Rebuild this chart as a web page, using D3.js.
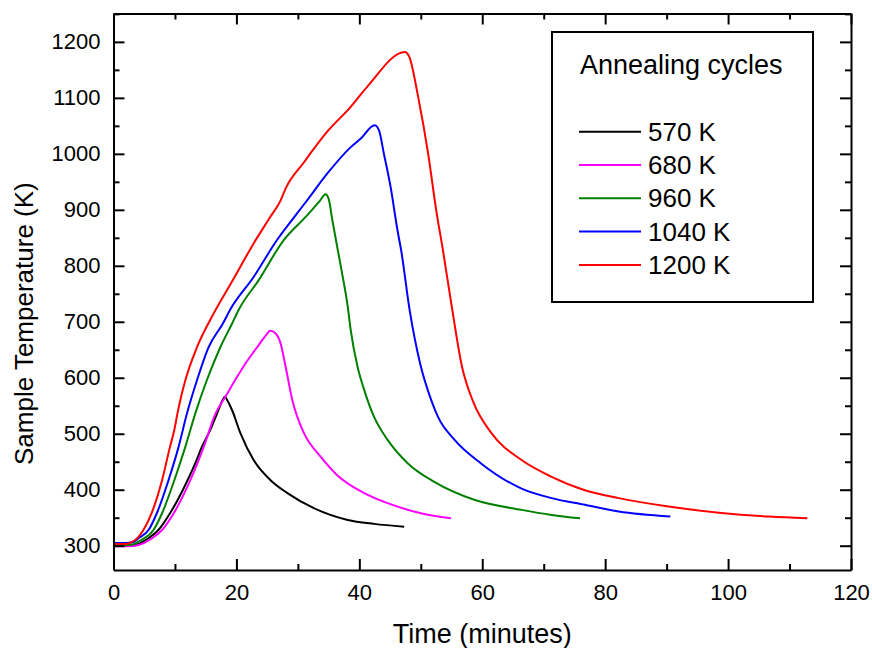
<!DOCTYPE html>
<html>
<head>
<meta charset="utf-8">
<script src="https://cdn.jsdelivr.net/npm/d3@7"></script>
<style>
  body { margin: 0; background: #fff; }
  text { font-family: "Liberation Sans", Arial, sans-serif; }
</style>
</head>
<body>
<div id="wrapper"></div>
<script>
// time (minutes), temperature (K)
const run570 = [[0,300],[2,300],[3.5,301],[5.5,312],[7.3,328],[9.2,358],[10.7,387],[12.05,417],[13.3,447],[14.4,477],[15.75,507],[16.85,536],[17.8,561],[18.1,566],[18.6,558],[19.3,542],[20.65,501],[22.8,453],[25.55,417],[28.3,394],[32.6,367],[38.1,346],[42.4,339],[47.3,334]];
const run680 = [[0,299],[2,299],[3.5,300],[5,305],[6.5,315],[7.9,328],[9.8,358],[12.5,417],[14.7,477],[16.6,536],[18.2,566],[19.8,596],[21.5,626],[22.8,646],[23.6,658],[24.6,673],[25.55,684],[26.3,680],[27.2,661],[28.0,620],[29.1,560],[31.0,501],[33.7,459],[36.4,426],[40.8,394],[44.6,376],[50.0,358],[54.9,349]];
const run960 = [[0,301],[2,301],[3,302],[4.5,310],[6.5,328],[7.9,358],[9.9,417],[11.7,477],[13.3,536],[15.2,596],[17.4,655],[19.3,697],[20.4,722],[23.6,774],[27.7,846],[31.5,890],[33.5,915],[34.5,928],[35.0,920],[35.6,882],[37.0,798],[38.1,728],[38.6,685],[39.7,620],[40.8,578],[42.4,530],[44.6,489],[47.9,447],[52.2,414],[58.7,382],[66.4,364],[71.3,355],[75.9,349]];
const run1040 = [[0,305],[2,305],[3,306],[4.3,315],[5.7,328],[7.05,358],[8.95,417],[10.6,477],[11.95,536],[13.6,596],[15.5,655],[17.8,697],[19.0,722],[22.8,780],[26.6,846],[29.9,894],[31.5,917],[34.8,965],[38.6,1012],[40.2,1027],[42.5,1051],[43.2,1042],[44.0,1000],[45.1,940],[46.2,864],[46.8,828],[48.2,720],[49.9,625],[51.7,560],[52.8,530],[55.5,489],[59.8,447],[66.4,402],[71.3,385],[76.7,373],[82.2,361],[90.6,352]];
const run1200 = [[0,303],[2,303],[2.7,305],[4.0,315],[4.87,328],[6.2,358],[7.9,417],[9.2,477],[9.9,507],[10.4,536],[11.0,566],[11.7,596],[13.6,655],[16.3,715],[19.5,776],[22.8,840],[25.55,888],[27.2,917],[28.0,938],[31.0,985],[34.8,1040],[38.6,1084],[41.3,1120],[47.4,1182],[48.1,1174],[49.6,1100],[51.2,1000],[52.5,900],[53.6,828],[55.0,730],[56.7,620],[58.6,555],[61.5,501],[66.4,453],[71.3,423],[76.7,399],[82.2,385],[90.3,370],[98.5,359],[106.7,352],[112.9,349]];

const seriesData = [run570, run680, run960, run1040, run1200];
const seriesNames = ['570 K', '680 K', '960 K', '1040 K', '1200 K'];
const seriesColors = ['#000000', '#ff00ff', '#008000', '#0000ff', '#ff0000'];

const xTicks = [0, 20, 40, 60, 80, 100, 120];
const xMinorTicks = [10, 30, 50, 70, 90, 110];
const yTicks = [300, 400, 500, 600, 700, 800, 900, 1000, 1100, 1200];
const yMinorTicks = [350, 450, 550, 650, 750, 850, 950, 1050, 1150, 1250];

function drawChart() {
  const dimensions = {
    width: 872,
    height: 648,
    margin: { top: 13.5, right: 21, bottom: 78, left: 113.5 },
  };
  dimensions.innerWidth = dimensions.width - dimensions.margin.left - dimensions.margin.right;
  dimensions.innerHeight = dimensions.height - dimensions.margin.top - dimensions.margin.bottom;

  const wrapper = d3
    .select('#wrapper')
    .append('svg')
    .attr('width', dimensions.width)
    .attr('height', dimensions.height);

  const bounds = wrapper
    .append('g')
    .attr('transform', `translate(${dimensions.margin.left},${dimensions.margin.top})`);

  const xScale = d3.scaleLinear().domain([0, 120]).range([0, dimensions.innerWidth]);
  const yScale = d3.scaleLinear().domain([256.6, 1250.7]).range([dimensions.innerHeight, 0]);

  // lines
  const lineGenerator = d3
    .line()
    .x((d) => xScale(d[0]))
    .y((d) => yScale(d[1]))
    .curve(d3.curveMonotoneX);

  bounds
    .selectAll('.run')
    .data(seriesData)
    .enter()
    .append('path')
    .attr('class', 'run')
    .attr('d', lineGenerator)
    .attr('fill', 'none')
    .attr('stroke', (d, i) => seriesColors[i])
    .attr('stroke-width', 2);

  // axes, ticks point inwards
  const major = 11;
  const minor = 6;
  const fmt = d3.format('d');

  bounds
    .append('g')
    .attr('transform', `translate(0,${dimensions.innerHeight})`)
    .call(d3.axisBottom(xScale).tickValues(xTicks).tickFormat(fmt).tickSizeInner(-major).tickSizeOuter(0).tickPadding(14));
  bounds
    .append('g')
    .attr('class', 'minor')
    .attr('transform', `translate(0,${dimensions.innerHeight})`)
    .call(d3.axisBottom(xScale).tickValues(xMinorTicks).tickSize(-minor).tickFormat(''));

  bounds
    .append('g')
    .call(d3.axisTop(xScale).tickValues(xTicks).tickSizeInner(-major).tickSizeOuter(0).tickFormat(''));
  bounds
    .append('g')
    .attr('class', 'minor')
    .call(d3.axisTop(xScale).tickValues(xMinorTicks).tickSize(-minor).tickFormat(''));

  bounds
    .append('g')
    .call(d3.axisLeft(yScale).tickValues(yTicks).tickFormat(fmt).tickSizeInner(-major).tickSizeOuter(0).tickPadding(13));
  bounds
    .append('g')
    .attr('class', 'minor')
    .call(d3.axisLeft(yScale).tickValues(yMinorTicks).tickSize(-minor).tickFormat(''));

  bounds
    .append('g')
    .attr('transform', `translate(${dimensions.innerWidth},0)`)
    .call(d3.axisRight(yScale).tickValues(yTicks).tickSizeInner(-major).tickSizeOuter(0).tickFormat(''));
  bounds
    .append('g')
    .attr('class', 'minor')
    .attr('transform', `translate(${dimensions.innerWidth},0)`)
    .call(d3.axisRight(yScale).tickValues(yMinorTicks).tickSize(-minor).tickFormat(''));

  bounds.selectAll('.minor .domain').remove();
  bounds.selectAll('.domain, .tick line').attr('stroke', '#000').attr('stroke-width', 2);
  bounds
    .selectAll('.tick text')
    .attr('fill', '#000')
    .style('font-size', '22px')
    .style('font-family', '"Liberation Sans", Arial, sans-serif');

  // axis titles
  wrapper
    .append('text')
    .attr('x', dimensions.margin.left + dimensions.innerWidth / 2)
    .attr('y', 643)
    .attr('text-anchor', 'middle')
    .style('font-size', '27px')
    .text('Time (minutes)');

  wrapper
    .append('text')
    .attr('transform', 'translate(33,465) rotate(-90)')
    .attr('text-anchor', 'start')
    .style('font-size', '26px')
    .text('Sample Temperature (K)');

  // legend
  const legend = wrapper.append('g').attr('transform', 'translate(552,32)');
  legend
    .append('rect')
    .attr('width', 261)
    .attr('height', 270)
    .attr('fill', '#fff')
    .attr('stroke', '#000')
    .attr('stroke-width', 2);
  legend
    .append('text')
    .attr('x', 28)
    .attr('y', 42)
    .style('font-size', '27px')
    .text('Annealing cycles');

  const items = legend
    .selectAll('.item')
    .data(seriesNames)
    .enter()
    .append('g')
    .attr('class', 'item')
    .attr('transform', (d, i) => `translate(0,${99.7 + i * 33.3})`);
  items
    .append('line')
    .attr('x1', 27)
    .attr('x2', 89)
    .attr('stroke', (d, i) => seriesColors[i])
    .attr('stroke-width', 2);
  items
    .append('text')
    .attr('x', 96)
    .attr('y', 9)
    .style('font-size', '26px')
    .text((d) => d);
}

drawChart();
</script>
</body>
</html>
